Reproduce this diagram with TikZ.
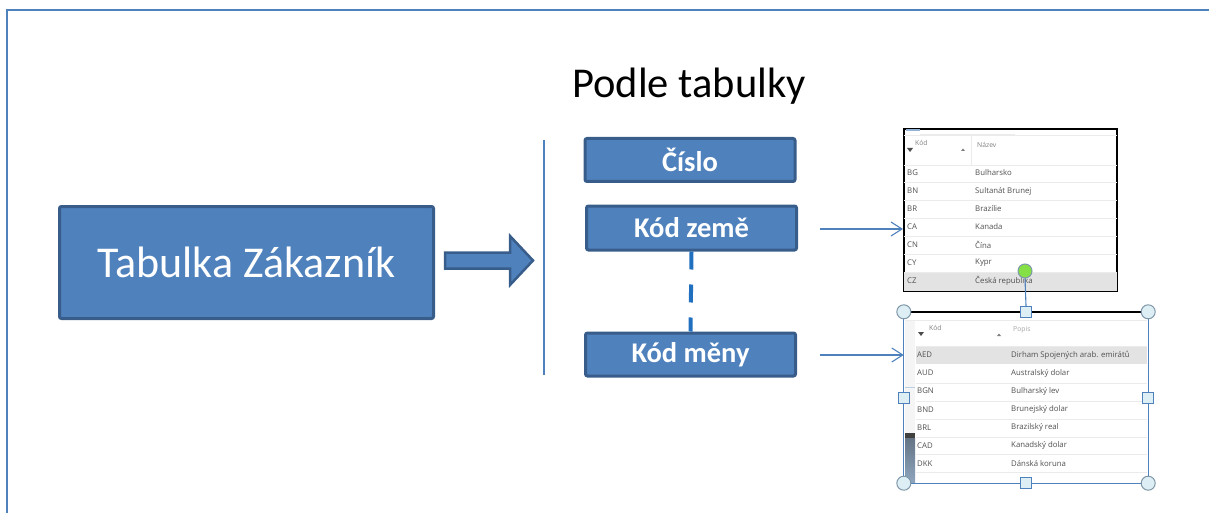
\documentclass[tikz,border=0pt]{standalone}
\usepackage{fontspec}
\setmainfont{Carlito}
\newfontfamily\uifont{Open Sans}
\usetikzlibrary{arrows.meta}
\definecolor{fillblue}{HTML}{4F81BD}
\definecolor{edgeblue}{HTML}{385D8A}
\definecolor{dashblue}{HTML}{2170C0}
\definecolor{tabtext}{HTML}{505050}
\definecolor{tabhead}{HTML}{808080}
\definecolor{rowline}{HTML}{EBEBEB}
\definecolor{rowhi}{HTML}{E3E3E3}
\definecolor{handlefill}{HTML}{DDEFF5}
\definecolor{handleedge}{HTML}{7F97A8}
\definecolor{greenhandle}{HTML}{84E044}
\definecolor{scrollbar}{HTML}{8FA6BE}
\tikzset{
  bluebox/.style={draw=edgeblue, fill=fillblue, line width=3pt, rounded corners=2pt,
    text=white, inner sep=0pt},
  fieldbox/.style={bluebox, minimum width=210pt, minimum height=43pt,
    font=\bfseries\fontsize{28.5}{30}\selectfont},
  thinblue/.style={draw=fillblue, line width=1.1pt},
  conn/.style={thinblue, -{Straight Barb[length=11pt,width=14pt]}},
  tabtxt/.style={font=\uifont\fontsize{7.8}{9}\selectfont, text=tabtext, inner sep=0pt, anchor=west},
  tabhd/.style={font=\uifont\fontsize{6.8}{8}\selectfont, text=tabhead, inner sep=0pt, anchor=west},
  cornerhandle/.style={circle, draw=handleedge, fill=handlefill, line width=1pt,
    minimum size=14pt, inner sep=0pt},
  sidehandle/.style={rectangle, draw=fillblue, fill=handlefill, line width=1pt,
    minimum size=11pt, inner sep=0pt},
}
\begin{document}
\begin{tikzpicture}[x=1pt,y=-1pt]
\useasboundingbox (0,0) rectangle (1209,513);
% frame
\draw[draw=fillblue, line width=2pt] (7,513) -- (7,10) -- (1209,10);

% title
\node[anchor=base, inner sep=0pt, font=\fontsize{42.5}{45}\selectfont] (title) at (689,98) {Podle tabulky};

% main box
\node[bluebox, minimum width=374pt, minimum height=112pt,
  font=\fontsize{44}{47}\selectfont] (tab) at (246.5,262.5) {Tabulka Zákazník};

% block arrow
\path[draw=edgeblue, fill=fillblue, line width=2.5pt, line join=miter]
  (445,252.5) -- (510,252.5) -- (510,236) -- (533,260.5) -- (510,285) -- (510,268.5) -- (445,268.5) -- cycle;

% separator
\draw[thinblue] (544,140) -- (544,375);

% fields
\node[fieldbox] (cislo) at (690,160) {Číslo};
\node[fieldbox, minimum height=44pt] (kz) at (691.5,228) {Kód země};
\node[fieldbox] (km) at (690.5,354.5) {Kód měny};

% dashed link
\draw[draw=dashblue, line width=4pt, dash pattern=on 18pt off 15pt] (kz.south) -- (km.north);

% ---------- table 1 (countries) ----------
\node[draw=black, line width=2pt, fill=white, minimum width=213pt, minimum height=162pt, inner sep=0pt] (t1) at (1010.5,210) {};
\fill[rowhi] (904,273) rectangle (1117,291);
\draw[draw=fillblue!60, line width=1.5pt] (906,130) -- (920,130);
\draw[draw=rowline, line width=0.8pt] (920,134) -- (1015,134);
\draw[draw=rowline, line width=0.8pt] (904,135.5) -- (1117,135.5);
\fill[black!70] (907,148) -- (913,148) -- (910,152) -- cycle;
\node[tabhd] at (915,143) {Kód};
\fill[black!50] (961,151) -- (965,151) -- (963,148.5) -- cycle;
\draw[draw=rowline, line width=0.8pt] (971,136) -- (971,165);
\node[tabhd] at (977,145) {Název};
\draw[draw=rowline, line width=0.8pt] (904,165.5) -- (1117,165.5);
\foreach \yy in {182,200,218,236,254,272}
  \draw[draw=rowline, line width=0.6pt] (904,\yy) -- (1117,\yy);
\foreach \cc/\nn [count=\i from 0] in {BG/Bulharsko, BN/Sultanát Brunej, BR/Brazílie, CA/Kanada, CN/Čína, CY/Kypr, CZ/Česká republika}{
  \node[tabtxt] at (907,173+18*\i) {\cc};
  \node[tabtxt] at (975,173+18*\i) {\nn};
}

% ---------- table 2 (currencies) ----------
\node[draw=none, fill=white, minimum width=244pt, minimum height=171pt, inner sep=0pt] (t2) at (1026,397.5) {};
\fill[rowhi] (916,347) rectangle (1147,364);
\fill[black!4] (905,320) rectangle (915,483);
\fill[black!75] (905,433) rectangle (915,438);
\shade[top color=scrollbar!70!black, bottom color=scrollbar] (905,438) rectangle (915,483);
\draw[draw=fillblue!40, line width=0.8pt] (905,387) -- (915,387);
\draw[draw=rowline, line width=0.8pt] (905,320.5) -- (1147,320.5);
\fill[black!70] (918,332) -- (924,332) -- (921,336) -- cycle;
\node[tabhd] at (929,328) {Kód};
\fill[black!50] (997,336) -- (1001,336) -- (999,333.5) -- cycle;
\node[tabhd, text=black!35] at (1013,330) {Popis};
\draw[draw=rowline, line width=0.8pt] (916,346) -- (1147,346);
\foreach \yy in {383,401,419,437,454,472}
  \draw[draw=rowline, line width=0.6pt] (916,\yy) -- (1147,\yy);
\foreach \cc/\nn [count=\i from 0] in {AED/Dirham Spojených arab. emirátů, AUD/Australský dolar, BGN/Bulharský lev, BND/Brunejský dolar, BRL/Brazilský real, CAD/Kanadský dolar, DKK/Dánská koruna}{
  \node[tabtxt] at (917,355+18.1*\i) {\cc};
  \node[tabtxt] at (1011,355+18.1*\i) {\nn};
}
% selection frame
\draw[thinblue] (t2.north west) rectangle (t2.south east);
\draw[draw=black, line width=2pt] (t2.north west) -- (t2.north east);

% rotation handle
\node[circle, draw=handleedge, fill=greenhandle, line width=1pt, minimum size=14pt, inner sep=0pt] (rot) at (1025,271) {};
\node[sidehandle] (hn) at (t2.north) {};
\draw[thinblue] (rot.south) -- (hn.north);
% handles
\node[cornerhandle] (hnw) at (t2.north west) {};
\node[cornerhandle] (hne) at (t2.north east) {};
\node[cornerhandle] (hsw) at (t2.south west) {};
\node[cornerhandle] (hse) at (t2.south east) {};
\node[sidehandle] (hs) at (t2.south) {};
\node[sidehandle] (hw) at (t2.west) {};
\node[sidehandle] (he) at (t2.east) {};

% connectors
\coordinate (c1) at (820,229);
\coordinate (c2) at (820,355);
\draw[conn] (c1) -- (c1 -| t1.west);
\draw[conn] (c2) -- (c2 -| t2.west);
\end{tikzpicture}
\end{document}
